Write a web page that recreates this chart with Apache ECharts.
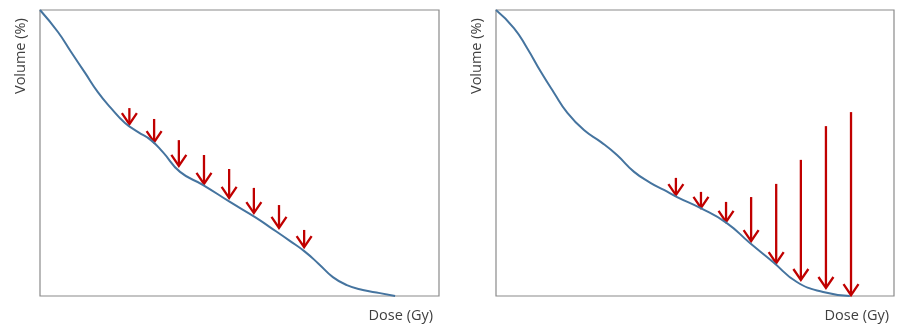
<!DOCTYPE html>
<html>
<head>
<meta charset="utf-8">
<style>
  html, body { margin: 0; padding: 0; background: #fff; }
  #chart { width: 897px; height: 324px; }
</style>
<script src="https://cdn.jsdelivr.net/npm/echarts@6/dist/echarts.min.js"></script>
</head>
<body>
<div id="chart"></div>
<script>
// dose (% of axis) / volume (%)
var leftCurve = [
  [0, 100], [4.5, 92.3], [7.8, 85.3], [11.3, 78.0], [14.5, 71.3], [17.8, 65.7],
  [21.3, 60.5], [24.6, 57.3], [27.8, 54.5], [30.8, 50.3], [35.1, 43.4], [40.9, 38.8],
  [47.6, 32.9], [53.9, 27.6], [57.6, 24.1], [62.7, 19.2], [66.3, 15.6], [69.8, 11.3],
  [73.4, 6.6], [76.9, 3.8], [80.9, 2.1], [85.2, 1.0], [89.0, 0]
]
var rightCurve = [
  [0, 100], [4.5, 93.7], [7.8, 86.7], [11.3, 78.3], [14.6, 71.0], [17.8, 64.3],
  [22.1, 58.0], [26.4, 53.8], [30.4, 49.3], [34.7, 43.4], [38.9, 39.5], [42.2, 37.1],
  [45.5, 34.6], [51.3, 30.8], [58.0, 25.5], [63.8, 18.5], [69.6, 11.9], [75.6, 4.9],
  [82.2, 1.4], [88.9, 0]
]
// arrows: [dose, volume at tail, volume at tip]
var leftArrows = [
  [22.4, 65.7, 60.1], [28.6, 61.9, 53.8], [34.8, 54.5, 45.5], [41.1, 49.3, 39.2],
  [47.4, 44.4, 34.3], [53.6, 37.8, 29.0], [59.9, 31.8, 23.8], [66.2, 23.1, 17.1]
]
var rightArrows = [
  [45.2, 41.3, 35.3], [51.5, 36.4, 30.8], [57.8, 32.9, 25.9], [64.1, 34.6, 19.2],
  [70.4, 39.2, 11.5], [76.6, 47.6, 5.6], [82.9, 59.4, 2.8], [89.2, 64.3, 0.3]
]
var yName = 'Volume (%)'
var xName = 'Dose (Gy)'

var lineColor = '#45749f'
var arrowColor = '#c00000'
var textColor = '#404040'
var labelFont = '14.5px "Open Sans"'

function renderArrow(params, api) {
  var tail = api.coord([api.value(0), api.value(1)])
  var tip = api.coord([api.value(0), api.value(2)])
  var style = { stroke: arrowColor, lineWidth: 2.3, fill: null }
  return {
    type: 'group',
    children: [
      { type: 'line', shape: { x1: tail[0], y1: tail[1], x2: tip[0], y2: tip[1] - 1 }, style: style },
      {
        type: 'polyline',
        shape: { points: [[tip[0] - 7.5, tip[1] - 11], [tip[0], tip[1]], [tip[0] + 7.5, tip[1] - 11]] },
        style: style
      }
    ]
  }
}

var axisOff = {
  type: 'value', min: 0, max: 100,
  axisLine: { show: false }, axisTick: { show: false },
  axisLabel: { show: false }, splitLine: { show: false }
}

var chart = echarts.init(document.getElementById('chart'))
chart.setOption({
  animation: false,
  textStyle: { fontFamily: 'Open Sans' },
  grid: [
    { left: 40, top: 10, width: 399, height: 286, show: true, borderColor: '#8a8a8a', borderWidth: 1.2 },
    { left: 496, top: 10, width: 398, height: 286, show: true, borderColor: '#8a8a8a', borderWidth: 1.2 }
  ],
  xAxis: [
    Object.assign({ gridIndex: 0 }, axisOff),
    Object.assign({ gridIndex: 1 }, axisOff)
  ],
  yAxis: [
    Object.assign({ gridIndex: 0 }, axisOff),
    Object.assign({ gridIndex: 1 }, axisOff)
  ],
  graphic: [
    { type: 'text', x: 21, y: 94, rotation: Math.PI / 2,
      style: { text: yName, fill: textColor, font: labelFont, align: 'left', verticalAlign: 'middle' } },
    { type: 'text', x: 477, y: 94, rotation: Math.PI / 2,
      style: { text: yName, fill: textColor, font: labelFont, align: 'left', verticalAlign: 'middle' } },
    { type: 'text', x: 433, y: 316,
      style: { text: xName, fill: textColor, font: labelFont, align: 'right', verticalAlign: 'middle' } },
    { type: 'text', x: 889, y: 316,
      style: { text: xName, fill: textColor, font: labelFont, align: 'right', verticalAlign: 'middle' } }
  ],
  series: [
    {
      type: 'line', xAxisIndex: 0, yAxisIndex: 0, data: leftCurve,
      smooth: 0.5, showSymbol: false, lineStyle: { color: lineColor, width: 2 }
    },
    {
      type: 'line', xAxisIndex: 1, yAxisIndex: 1, data: rightCurve,
      smooth: 0.5, showSymbol: false, lineStyle: { color: lineColor, width: 2 }
    },
    {
      type: 'custom', xAxisIndex: 0, yAxisIndex: 0, data: leftArrows,
      encode: { x: 0, y: [1, 2] }, renderItem: renderArrow
    },
    {
      type: 'custom', xAxisIndex: 1, yAxisIndex: 1, data: rightArrows,
      encode: { x: 0, y: [1, 2] }, renderItem: renderArrow
    }
  ]
})
</script>
</body>
</html>
